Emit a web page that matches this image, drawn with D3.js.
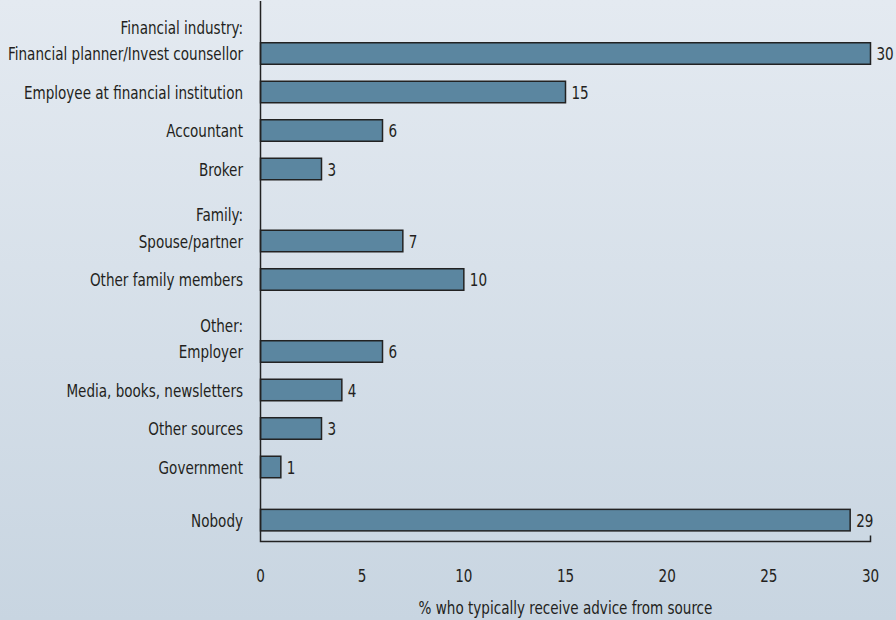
<!DOCTYPE html>
<html><head><meta charset="utf-8">
<script src="https://cdn.jsdelivr.net/npm/d3@7"></script>
<style>
html,body{margin:0;padding:0;}
svg{display:block;}
text{font-family:"DejaVu Sans Condensed","DejaVu Sans",sans-serif;fill:#231f20;}
</style></head>
<body><svg id="c" width="896" height="620"></svg>
<script>
const categories = ["Financial planner/Invest counsellor","Employee at financial institution","Accountant","Broker",
  "Spouse/partner","Other family members",
  "Employer","Media, books, newsletters","Other sources","Government",
  "Nobody"];
const values = [30,15,6,3,7,10,6,4,3,1,29];
const groupOf = [0,0,0,0,1,1,2,2,2,2,3];
const groupHeaders = ["Financial industry:","Family:","Other:",null];
const xTicks = [0,5,10,15,20,25,30];
const axisTitle = "% who typically receive advice from source";

const W=896,H=620;
const svg=d3.select("#c");
const defs=svg.append("defs");
const lg=defs.append("linearGradient").attr("id","bg").attr("x1",0).attr("y1",0).attr("x2",0).attr("y2",1);
lg.append("stop").attr("offset","0%").attr("stop-color","#e4eaf1");
lg.append("stop").attr("offset","100%").attr("stop-color","#c8d5e1");
svg.append("rect").attr("width",W).attr("height",H).attr("fill","url(#bg)");

const slots=[];
let extra=0;
categories.forEach((c,i)=>{
  if(i>0 && groupOf[i]!==groupOf[i-1]) extra += groupHeaders[groupOf[i]] ? 0.87 : 0.38;
  slots.push(i+extra);
});
const maxSlot=slots[slots.length-1];
const y=d3.scaleLinear().domain([0,maxSlot]).range([53.5,53.5+38.5*maxSlot]);
const x=d3.scaleLinear().domain([0,30]).range([260.5,870.5]);
const bh=21.5;
const fs=18.5;

// measure compression factor
const probe=svg.append("text").attr("font-size",fs).text(categories[0]);
const sx=235/probe.node().getComputedTextLength();
probe.remove();

function label(sel,px,py,txt,anchor){
  return sel.append("text").attr("transform",`translate(${px},${py}) scale(${sx},1)`)
    .attr("text-anchor",anchor).attr("font-size",fs).text(txt);
}

const g=svg.append("g");
g.selectAll("rect.bar").data(values).join("rect").attr("class","bar")
  .attr("x",x(0)).attr("y",(d,i)=>y(slots[i])-bh/2)
  .attr("width",d=>x(d)-x(0)).attr("height",bh)
  .attr("fill","#5b86a0").attr("stroke","#222").attr("stroke-width",1.5);
values.forEach((v,i)=>label(g,x(v)+6,y(slots[i])+6.8,v,"start"));
categories.forEach((c,i)=>label(g,243,y(slots[i])+6.8,c,"end"));
groupHeaders.forEach((h,gi)=>{
  if(!h) return;
  const first=groupOf.indexOf(gi);
  label(g,243,y(slots[first])+6.8-26.5,h,"end");
});
const axisY=541.5;
svg.append("path").attr("d",`M${x(0)},1V${axisY}H${x(30)}V${axisY-6}`)
  .attr("fill","none").attr("stroke","#222").attr("stroke-width",1.5);
xTicks.forEach(t=>label(svg,x(t),581.5,t,"middle"));
label(svg,(x(0)+x(30))/2,613.5,axisTitle,"middle");
</script></body></html>
